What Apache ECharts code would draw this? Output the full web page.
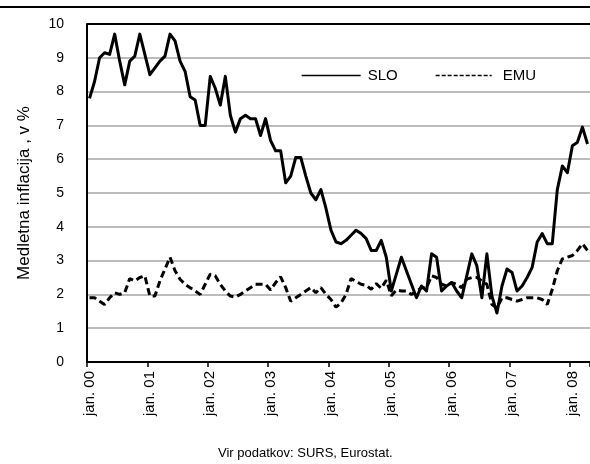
<!DOCTYPE html>
<html>
<head>
<meta charset="utf-8">
<script src="https://cdn.jsdelivr.net/npm/echarts@6/dist/echarts.min.js"></script>
<style>
html,body{margin:0;padding:0;background:#fff;}
#c{width:590px;height:464px;}
</style>
</head>
<body>
<div id="c"></div>
<script>
var monthNames = ['jan.','feb.','mar.','apr.','maj','jun.','jul.','avg.','sep.','okt.','nov.','dec.'];
var yearLabels = ['00','01','02','03','04','05','06','07','08'];
var lastYearMonths = 4; // jan.-apr. 2008

var sloValues = [
  7.8, 8.3, 9.0, 9.15, 9.1, 9.7, 8.9, 8.2, 8.9, 9.05, 9.7, 9.1,
  8.5, 8.7, 8.9, 9.05, 9.7, 9.5, 8.9, 8.6, 7.85, 7.75, 7.0, 7.0,
  8.45, 8.1, 7.6, 8.45, 7.3, 6.8, 7.2, 7.3, 7.2, 7.2, 6.7, 7.2,
  6.55, 6.25, 6.25, 5.3, 5.5, 6.05, 6.05, 5.5, 5.0, 4.8, 5.1, 4.55,
  3.9, 3.55, 3.5, 3.6, 3.75, 3.9, 3.8, 3.65, 3.3, 3.3, 3.6, 3.1,
  2.1, 2.6, 3.1, 2.7, 2.3, 1.9, 2.25, 2.1, 3.2, 3.1, 2.1, 2.25,
  2.35, 2.1, 1.9, 2.55, 3.2, 2.85, 1.9, 3.2, 1.95, 1.45, 2.25, 2.75,
  2.65, 2.1, 2.25, 2.5, 2.8, 3.55, 3.8, 3.5, 3.5, 5.1, 5.8, 5.6,
  6.4, 6.5, 6.95, 6.45
];
var emuValues = [
  1.9, 1.9, 1.8, 1.7, 1.9, 2.05, 2.0, 2.05, 2.47, 2.4, 2.5, 2.55,
  1.95, 1.95, 2.4, 2.75, 3.1, 2.7, 2.45, 2.3, 2.2, 2.1, 2.0, 2.3,
  2.6, 2.55, 2.3, 2.1, 1.95, 1.92, 2.0, 2.1, 2.2, 2.3, 2.3, 2.3,
  2.13, 2.35, 2.52, 2.2, 1.8, 1.9, 2.0, 2.1, 2.2, 2.05, 2.2, 2.0,
  1.85, 1.62, 1.75, 2.0, 2.47, 2.38, 2.3, 2.27, 2.15, 2.32, 2.18, 2.42,
  1.96, 2.13, 2.1, 2.1, 2.0, 2.1, 2.2, 2.2, 2.55, 2.5, 2.3, 2.25,
  2.35, 2.3, 2.2, 2.45, 2.5, 2.5, 2.4, 2.3, 1.7, 1.6, 1.9, 1.9,
  1.85, 1.8, 1.85, 1.9, 1.9, 1.9, 1.85, 1.7, 2.15, 2.7, 3.05, 3.1,
  3.15, 3.3, 3.5, 3.3
];
var yTicks = [0, 10, 1]; // min, max, interval
var seriesNames = ['SLO', 'EMU'];
var yAxisTitle = 'Medletna inflacija , v %';
var sourceNote = 'Vir podatkov: SURS, Eurostat.';

var categories = [];
for (var y = 0; y < yearLabels.length; y++) {
  var n = (y === yearLabels.length - 1) ? lastYearMonths : 12;
  for (var m = 0; m < n; m++) categories.push(monthNames[m] + ' ' + yearLabels[y]);
}

var FONT = 'Liberation Sans, Arial, sans-serif';
var grayLines = [];
for (var i = 0; i < 10; i++) grayLines.push('#bcbcbc');
grayLines.push('#000000');

var chart = echarts.init(document.getElementById('c'), null, {renderer: 'canvas'});
chart.setOption({
  animation: false,
  backgroundColor: '#ffffff',
  textStyle: {fontFamily: FONT},
  grid: {left: 87, top: 24, width: 505, height: 338, containLabel: false},
  title: {
    text: sourceNote, left: 213, top: 442,
    textStyle: {fontFamily: FONT, fontSize: 13, fontWeight: 'normal', color: '#000'}
  },
  legend: [
    {data: [{name: seriesNames[0], lineStyle: {width: 1.3}, itemStyle: {opacity: 0}}],
     left: 296, top: 63, itemWidth: 59, itemHeight: 14,
     textStyle: {fontFamily: FONT, fontSize: 15, color: '#000', padding: [0, 0, 0, 2]}},
    {data: [{name: seriesNames[1], lineStyle: {width: 1.3, type: [4, 2]}, itemStyle: {opacity: 0}}],
     left: 430, top: 63, itemWidth: 56, itemHeight: 14,
     textStyle: {fontFamily: FONT, fontSize: 15, color: '#000', padding: [0, 0, 0, 6]}}
  ],
  xAxis: {
    type: 'category', data: categories, boundaryGap: true,
    axisLine: {show: true, lineStyle: {color: '#000', width: 2}},
    axisTick: {show: true, interval: 11, length: 5, lineStyle: {color: '#000', width: 1.5}},
    axisLabel: {interval: 11, rotate: 90, fontFamily: FONT, fontSize: 15, color: '#000', margin: 9},
    splitLine: {show: false}
  },
  yAxis: {
    type: 'value', min: yTicks[0], max: yTicks[1], interval: yTicks[2],
    name: yAxisTitle, nameLocation: 'middle', nameRotate: 90, nameGap: 54,
    nameTextStyle: {fontFamily: FONT, fontSize: 17, color: '#000'},
    axisLine: {show: true, lineStyle: {color: '#000', width: 2}},
    axisTick: {show: false},
    axisLabel: {fontFamily: FONT, fontSize: 14, color: '#000', margin: 23},
    splitLine: {show: true, lineStyle: {color: grayLines, width: 2}}
  },
  graphic: [
    {type: 'line', shape: {x1: 0, y1: 7, x2: 590, y2: 7}, style: {stroke: '#000', lineWidth: 2}}
  ],
  series: [
    {name: seriesNames[0], type: 'line', data: sloValues, symbol: 'none', smooth: false,
     lineStyle: {color: '#000', width: 3, join: 'round'}, itemStyle: {color: '#000'}},
    {name: seriesNames[1], type: 'line', data: emuValues, symbol: 'none', smooth: false,
     lineStyle: {color: '#000', width: 3, type: [7, 4]}, itemStyle: {color: '#000'}}
  ]
});
</script>
</body>
</html>
